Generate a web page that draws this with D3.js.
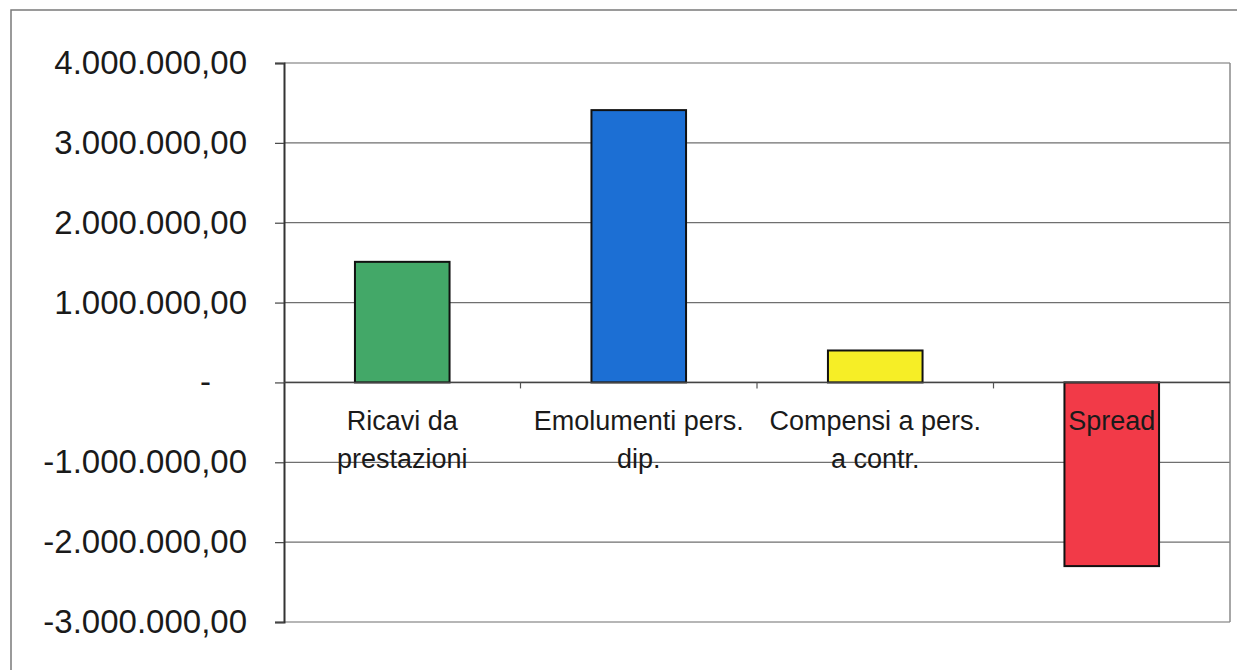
<!DOCTYPE html>
<html>
<head>
<meta charset="utf-8">
<script src="https://cdn.jsdelivr.net/npm/d3@7"></script>
<style>
  body { margin: 0; background: #fff; }
  svg { display: block; font-family: "Liberation Sans", Arial, sans-serif; }
</style>
</head>
<body>
<svg id="chart" width="1237" height="670"></svg>
<script>
// data
var CATEGORIES = ["Ricavi da prestazioni", "Emolumenti pers. dip.", "Compensi a pers. a contr.", "Spread"];
var LABEL_LINES = [["Ricavi da", "prestazioni"], ["Emolumenti pers.", "dip."], ["Compensi a pers.", "a contr."], ["Spread"]];
var VALUES = [1510000, 3410000, 400000, -2300000];
var COLORS = ["#43a868", "#1c6fd4", "#f6ee26", "#f23a48"];
var Y_TICKS = [-3000000, -2000000, -1000000, 0, 1000000, 2000000, 3000000, 4000000];

var MARGIN = {left: 284, top: 63, right: 7, bottom: 48};
var WIDTH = 1237 - MARGIN.left - MARGIN.right;
var HEIGHT = 670 - MARGIN.top - MARGIN.bottom;

var it = d3.formatLocale({decimal: ",", thousands: ".", grouping: [3], currency: ["", ""], minus: "-"});
var fmt = it.format(",.2f");

var svg = d3.select("#chart");

// outer frame of the chart object
svg.append("rect")
    .attr("x", 11).attr("y", 10)
    .attr("width", 1300).attr("height", 700)
    .attr("fill", "none")
    .attr("stroke", "#7a7a7a")
    .attr("stroke-width", 1.5);

var chart = svg.append("g")
    .attr("transform", `translate(${MARGIN.left}, ${MARGIN.top})`);

var xScale = d3.scaleBand()
    .domain(CATEGORIES)
    .range([0, WIDTH])
    .padding(0);

var yScale = d3.scaleLinear()
    .domain([-3000000, 4000000])
    .range([HEIGHT, 0]);

// gridlines
chart.selectAll(".grid")
    .data(Y_TICKS)
    .enter().append("line")
    .attr("class", "grid")
    .attr("x1", 0).attr("x2", WIDTH)
    .attr("y1", d => yScale(d)).attr("y2", d => yScale(d))
    .attr("stroke", "#6f6f6f")
    .attr("stroke-width", 1.2);

// right border of the plot area
chart.append("line")
    .attr("x1", WIDTH).attr("x2", WIDTH)
    .attr("y1", 0).attr("y2", HEIGHT)
    .attr("stroke", "#8a8a8a")
    .attr("stroke-width", 1.5);

// y axis
var yAxis = chart.append("g")
    .call(d3.axisLeft(yScale)
        .tickValues(Y_TICKS)
        .tickSize(9)
        .tickPadding(28)
        .tickFormat(d => d === 0 ? "-" : fmt(d)));
yAxis.select(".domain").attr("stroke", "#333").attr("stroke-width", 2);
yAxis.selectAll(".tick line").attr("stroke", "#444").attr("stroke-width", 1.2);
yAxis.selectAll(".tick text")
    .attr("font-size", 33)
    .attr("fill", "#1a1a1a")
    .attr("font-family", "\"Liberation Sans\", Arial, sans-serif")
    .attr("dx", d => d === 0 ? -36 : 0);

// bars
var barW = xScale.bandwidth() * 0.4;
chart.selectAll(".bar")
    .data(VALUES)
    .enter().append("rect")
    .attr("class", "bar")
    .attr("x", (d, i) => xScale(CATEGORIES[i]) + (xScale.bandwidth() - barW) / 2)
    .attr("y", d => yScale(Math.max(0, d)))
    .attr("width", barW)
    .attr("height", d => Math.abs(yScale(d) - yScale(0)))
    .attr("fill", (d, i) => COLORS[i])
    .attr("stroke", "#111")
    .attr("stroke-width", 2);

// zero line
chart.append("line")
    .attr("x1", 0).attr("x2", WIDTH)
    .attr("y1", yScale(0)).attr("y2", yScale(0))
    .attr("stroke", "#444")
    .attr("stroke-width", 1.5);

// category boundary ticks on the zero line
chart.selectAll(".xtick")
    .data(CATEGORIES.slice(1))
    .enter().append("line")
    .attr("class", "xtick")
    .attr("x1", d => xScale(d)).attr("x2", d => xScale(d))
    .attr("y1", yScale(0)).attr("y2", yScale(0) + 6)
    .attr("stroke", "#555")
    .attr("stroke-width", 1.2);

// category labels
var labels = chart.selectAll(".xlabel")
    .data(CATEGORIES)
    .enter().append("text")
    .attr("class", "xlabel")
    .attr("text-anchor", "middle")
    .attr("font-size", 27)
    .attr("fill", "#1a1a1a")
    .attr("y", yScale(0) + 48);

labels.each(function(d, i) {
    var t = d3.select(this);
    LABEL_LINES[i].forEach((line, j) => {
        t.append("tspan")
            .attr("x", xScale(d) + xScale.bandwidth() / 2)
            .attr("dy", j === 0 ? 0 : 38)
            .text(line);
    });
});
</script>
</body>
</html>
